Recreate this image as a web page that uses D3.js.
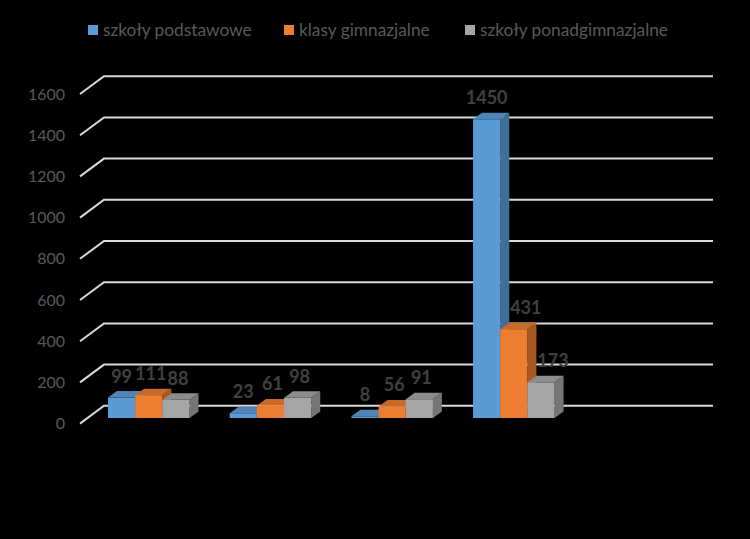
<!DOCTYPE html>
<html>
  <head>
    <meta charset="utf-8">
    <title>Szkoły</title>
    <script src="https://d3js.org/d3.v7.min.js"></script>
    <style>
      html, body { margin: 0; background: #000; }
      svg { display: block; background: #000; font-family: Lato, "Open Sans", sans-serif; }
    </style>
  </head>
  <body>
    <svg id="chart" width="750" height="539"></svg>
    <script>
      // data (the categories have no visible labels)
      var groups = ["a", "b", "c", "d"];
      var seriesNames = ["szkoły podstawowe", "klasy gimnazjalne", "szkoły ponadgimnazjalne"];
      var podstawowe = [99, 23, 8, 1450];
      var gimnazjalne = [111, 61, 56, 431];
      var ponadgimnazjalne = [88, 98, 91, 173];
      var yTicks = [0, 200, 400, 600, 800, 1000, 1200, 1400, 1600];

      var seriesValues = [podstawowe, gimnazjalne, ponadgimnazjalne];
      var frontColours = ["#5b9bd5", "#ed7d31", "#a5a5a5"];
      var topColours = ["#4e85b6", "#c96a29", "#8c8c8c"];
      var sideColours = ["#3f6e97", "#a85822", "#757575"];

      var svg = d3.select("#chart");

      // scales
      var y = d3.scaleLinear().domain([0, 1600]).range([423.6, 94]);
      var x0 = d3.scaleBand().domain(groups).range([108, 554.6]).paddingInner(0.33).paddingOuter(0);
      var x1 = d3.scaleBand().domain(d3.range(seriesNames.length)).range([0, x0.bandwidth()]);

      // 3d look
      var depthX = 9, depthY = 6.5;
      var wallX = 24, wallY = 17.8;
      var floorOffset = 5.6;
      var wallRight = 713;

      // gridlines
      svg.append("g").selectAll("path")
        .data(yTicks)
        .join("path")
          .attr("fill", "none")
          .attr("stroke", "#d9d9d9")
          .attr("stroke-width", 2)
          .attr("d", function(d) {
            return d3.line()([[80, y(d)], [80 + wallX, y(d) - wallY], [wallRight, y(d) - wallY]]);
          });

      // tick labels
      svg.append("g").selectAll("text")
        .data(yTicks)
        .join("text")
          .attr("x", 65)
          .attr("y", function(d) { return y(d); })
          .attr("dy", "0.35em")
          .attr("text-anchor", "end")
          .attr("fill", "#595959")
          .attr("font-size", 16)
          .text(function(d) { return d; });

      // bars, series by series so that later ones sit over the earlier ones
      var bars = svg.append("g");
      groups.forEach(function(g, gi) {
        seriesValues.forEach(function(values, si) {
          var left = x0(g) + x1(si);
          var right = left + x1.bandwidth();
          var bottom = y(0) - floorOffset;
          var top = y(values[gi]) - floorOffset;
          var bar = bars.append("g");
          bar.append("path")
            .attr("fill", sideColours[si])
            .attr("d", d3.line()([[right, top], [right + depthX, top - depthY], [right + depthX, bottom - depthY], [right, bottom]]) + "Z");
          bar.append("path")
            .attr("fill", topColours[si])
            .attr("d", d3.line()([[left, top], [left + depthX, top - depthY], [right + depthX, top - depthY], [right, top]]) + "Z");
          bar.append("rect")
            .attr("x", left)
            .attr("y", top)
            .attr("width", right - left)
            .attr("height", bottom - top)
            .attr("fill", frontColours[si]);
        });
      });

      // value labels
      var labels = svg.append("g");
      groups.forEach(function(g, gi) {
        seriesValues.forEach(function(values, si) {
          // the two shorter bars of the last group have labels pushed off to the right
          var shift = (gi === 3 && si > 0) ? 12 : (si > 0 ? 2 : 0);
          labels.append("text")
            .attr("x", x0(g) + x1(si) + x1.bandwidth() / 2 + shift)
            .attr("y", y(values[gi]) - floorOffset - depthY - 8.5)
            .attr("text-anchor", "middle")
            .attr("fill", "#404040")
            .attr("font-size", 18)
            .attr("font-weight", 700)
            .text(values[gi]);
        });
      });

      // legend
      var legendX = [88, 284, 465];
      var legend = svg.append("g").selectAll("g")
        .data(seriesNames)
        .join("g")
          .attr("transform", function(d, i) { return "translate(" + legendX[i] + ",25)"; });
      legend.append("rect")
        .attr("width", 10)
        .attr("height", 10)
        .attr("fill", function(d, i) { return frontColours[i]; });
      legend.append("text")
        .attr("x", 15)
        .attr("y", 5)
        .attr("dy", "0.35em")
        .attr("fill", "#595959")
        .attr("font-size", 17.3)
        .text(function(d) { return d; });
    </script>
  </body>
</html>
